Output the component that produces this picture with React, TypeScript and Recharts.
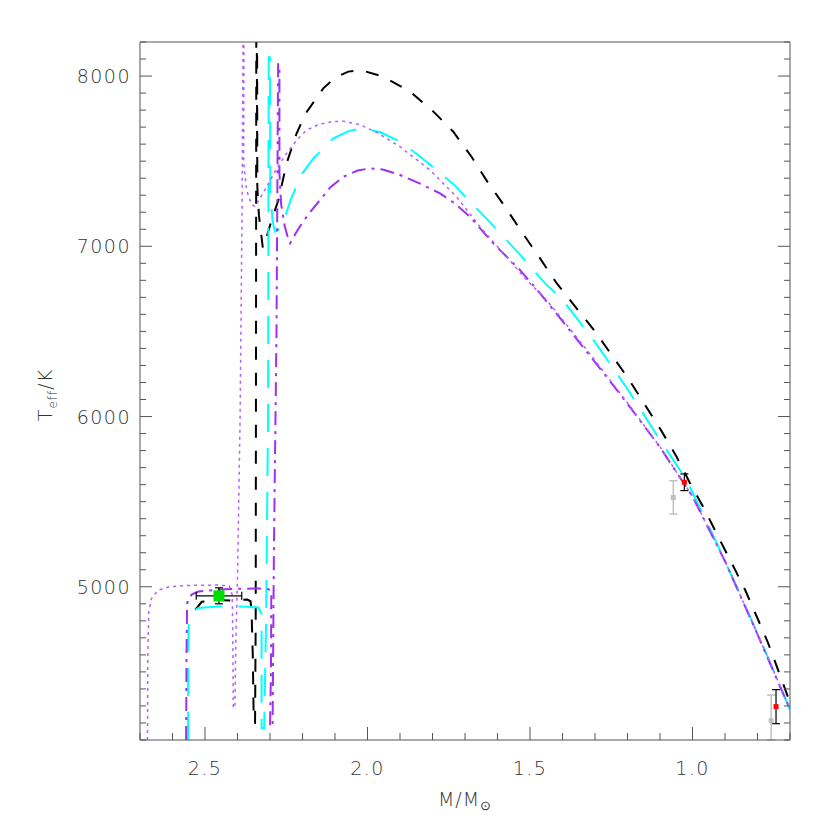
import { ComposedChart, Line, Scatter, XAxis, YAxis, ErrorBar } from 'recharts';

// tracks: [mass, Teff] in drawing order
const BLACK_TRACK = [
  [2.53, 4865], [2.51, 4912], [2.47, 4922], [2.42, 4920], [2.37, 4925], [2.36, 4915], [2.357, 4870],
  [2.353, 4600], [2.35, 4200], [2.346, 4200], [2.344, 4800], [2.343, 6500], [2.342, 8600], [2.34, 8600],
  [2.339, 7400], [2.341, 8400], [2.339, 7350], [2.334, 7180], [2.322, 6990], [2.308, 7070], [2.295, 7154],
  [2.274, 7272], [2.249, 7487], [2.218, 7664], [2.19, 7781], [2.136, 7928], [2.1, 7990], [2.059, 8026],
  [2.02, 8035], [1.951, 7996], [1.869, 7908], [1.797, 7791], [1.736, 7673], [1.68, 7526], [1.628, 7370],
  [1.577, 7233], [1.526, 7086], [1.469, 6929], [1.418, 6783], [1.3, 6500], [1.2, 6230], [1.1, 5930],
  [1.049, 5764], [1.008, 5610], [0.962, 5451], [0.921, 5294], [0.879, 5138], [0.838, 4981], [0.802, 4824],
  [0.767, 4668], [0.731, 4482], [0.7, 4320],
];

const CYAN_TRACK = [
  [2.552, 4100], [2.552, 4600], [2.55, 4790], [2.545, 4830], [2.535, 4858], [2.52, 4876], [2.46, 4884],
  [2.4, 4884], [2.372, 4882], [2.335, 4878], [2.326, 4840], [2.326, 4170], [2.318, 4170], [2.312, 4800],
  [2.306, 6000], [2.304, 8110], [2.3, 8110], [2.299, 7300], [2.292, 7150], [2.285, 7086], [2.275, 7095],
  [2.264, 7115], [2.235, 7280], [2.2, 7430], [2.166, 7517], [2.105, 7634], [2.06, 7675], [2.018, 7693],
  [1.96, 7670], [1.91, 7624], [1.85, 7545], [1.787, 7448], [1.73, 7355], [1.68, 7253], [1.63, 7155],
  [1.582, 7057], [1.53, 6950], [1.49, 6861], [1.45, 6775], [1.403, 6694], [1.3, 6437], [1.2, 6162],
  [1.1, 5862], [1.018, 5627], [0.925, 5255], [0.864, 5000], [0.782, 4648], [0.7, 4276],
];

const PURPLE_TRACK = [
  [2.558, 4100], [2.557, 4600], [2.555, 4900], [2.55, 4935], [2.54, 4955], [2.52, 4972], [2.44, 4986],
  [2.35, 4990], [2.31, 4990], [2.296, 4975], [2.297, 4500], [2.3, 4180], [2.292, 4180], [2.288, 5200],
  [2.28, 6500], [2.275, 8070], [2.271, 8070], [2.271, 7430], [2.266, 7250], [2.255, 7120], [2.245, 7050],
  [2.238, 7018], [2.22, 7080], [2.2, 7140], [2.177, 7200], [2.146, 7272], [2.115, 7345], [2.074, 7409],
  [2.03, 7445], [1.992, 7458], [1.95, 7450], [1.9, 7419], [1.84, 7370], [1.777, 7311], [1.73, 7250],
  [1.685, 7174], [1.613, 7017], [1.531, 6861], [1.469, 6724], [1.4, 6560], [1.3, 6320], [1.2, 6075],
  [1.1, 5820], [1.0, 5530], [0.9, 5150], [0.8, 4720], [0.7, 4280],
];

const DOTTED_TRACK = [
  [2.677, 4100], [2.676, 4600], [2.673, 4850], [2.665, 4930], [2.645, 4980], [2.61, 5000], [2.55, 5008],
  [2.46, 5010], [2.425, 5005], [2.416, 4950], [2.414, 4600], [2.413, 4290], [2.408, 4290], [2.405, 4700],
  [2.4, 5050], [2.392, 6000], [2.386, 7200], [2.382, 8500], [2.38, 8500], [2.381, 7490], [2.372, 7330],
  [2.358, 7250], [2.346, 7233], [2.33, 7285], [2.31, 7350], [2.28, 7455], [2.249, 7546], [2.215, 7630],
  [2.187, 7683], [2.15, 7715], [2.11, 7732], [2.074, 7735], [2.02, 7712], [1.967, 7664], [1.9, 7585],
  [1.808, 7448], [1.726, 7291], [1.654, 7115], [1.582, 6959], [1.51, 6802], [1.449, 6684], [1.4, 6570],
  [1.3, 6330], [1.2, 6080], [1.1, 5822], [1.0, 5532], [0.9, 5152], [0.8, 4722], [0.7, 4282],
];

// observed stars
const GREEN_STAR = [{ m: 2.457, T: 4947, em: 0.07, eT: 47 }];
const RED_STARS = [
  { m: 1.025, T: 5614, eT: 49 },
  { m: 0.743, T: 4296, eT: 100 },
];
const GREY_STARS = [
  { m: 1.059, T: 5525, eT: 98 },
  { m: 0.758, T: 4213, eT: [113, 151] },
];

const X_TICKS = [0.7, 0.8, 0.9, 1.0, 1.1, 1.2, 1.3, 1.4, 1.5, 1.6, 1.7, 1.8, 1.9, 2.0, 2.1, 2.2, 2.3, 2.4, 2.5, 2.6, 2.7];
const Y_TICKS = [
  4100, 4200, 4300, 4400, 4500, 4600, 4700, 4800, 4900, 5000, 5100, 5200, 5300, 5400, 5500, 5600, 5700,
  5800, 5900, 6000, 6100, 6200, 6300, 6400, 6500, 6600, 6700, 6800, 6900, 7000, 7100, 7200, 7300, 7400,
  7500, 7600, 7700, 7800, 7900, 8000, 8100, 8200,
];

const toPts = (track: number[][]) => track.map(([m, T]) => ({ m, T }));

const AXIS = '#555';
const TEXT = '#333';
const FONT = '"DejaVu Sans", sans-serif';

const majorX = (v: number) => Math.abs(v * 2 - Math.round(v * 2)) < 1e-6;
const majorY = (v: number) => v % 1000 === 0;

const labelStyle = { fontFamily: FONT, fontSize: 19, fontWeight: 200, fill: TEXT, letterSpacing: 1.5 };

function BottomTick({ x, y, payload }: any) {
  const big = majorX(payload.value);
  return (
    <g>
      <line x1={x} y1={y} x2={x} y2={y - (big ? 13 : 7)} stroke={AXIS} />
      {big && (
        <text x={x} y={y + 35} textAnchor="middle" {...labelStyle}>
          {payload.value.toFixed(1)}
        </text>
      )}
    </g>
  );
}

function TopTick({ x, y, payload }: any) {
  const big = majorX(payload.value);
  return <line x1={x} y1={y} x2={x} y2={y + (big ? 13 : 7)} stroke={AXIS} />;
}

function LeftTick({ x, y, payload }: any) {
  const big = majorY(payload.value);
  return (
    <g>
      <line x1={x} y1={y} x2={x + (big ? 12 : 6)} y2={y} stroke={AXIS} />
      {big && (
        <text x={x - 9} y={y + 7} textAnchor="end" {...labelStyle}>
          {payload.value}
        </text>
      )}
    </g>
  );
}

function RightTick({ x, y, payload }: any) {
  const big = majorY(payload.value);
  return <line x1={x} y1={y} x2={x - (big ? 12 : 6)} y2={y} stroke={AXIS} />;
}

const square = (size: number, fill: string) => (props: any) => (
  <rect x={props.cx - size / 2} y={props.cy - size / 2} width={size} height={size} fill={fill} />
);

export default function App() {
  return (
    <div style={{ position: 'absolute', left: 0, top: 0, background: '#fff' }}>
      <ComposedChart width={830} height={830} margin={{ top: 0, right: 0, bottom: 0, left: 0 }}>
        <XAxis
          xAxisId="b"
          type="number"
          dataKey="m"
          domain={[0.7, 2.7]}
          reversed
          allowDataOverflow
          ticks={X_TICKS}
          interval={0}
          height={90}
          tickSize={0}
          tickMargin={0}
          tickLine={false}
          axisLine={{ stroke: AXIS }}
          tick={<BottomTick />}
          label={{
            content: () => (
              <text x={465} y={806} textAnchor="middle" {...labelStyle} letterSpacing={1}>
                M/M
                <tspan fontSize={13} dy={4}>⊙</tspan>
              </text>
            ),
          }}
        />
        <XAxis
          xAxisId="t"
          orientation="top"
          type="number"
          domain={[0.7, 2.7]}
          reversed
          allowDataOverflow
          ticks={X_TICKS}
          interval={0}
          height={42}
          tickSize={0}
          tickMargin={0}
          tickLine={false}
          axisLine={{ stroke: AXIS }}
          tick={<TopTick />}
        />
        <YAxis
          yAxisId="l"
          type="number"
          dataKey="T"
          domain={[4100, 8200]}
          allowDataOverflow
          ticks={Y_TICKS}
          interval={0}
          width={140}
          tickSize={0}
          tickMargin={0}
          tickLine={false}
          axisLine={{ stroke: AXIS }}
          tick={<LeftTick />}
          label={{
            content: () => (
              <text x={52} y={395} transform="rotate(-90 52 395)" textAnchor="middle" {...labelStyle} letterSpacing={1}>
                T
                <tspan fontSize={12} dy={5}>eff</tspan>
                <tspan dy={-5}>/K</tspan>
              </text>
            ),
          }}
        />
        <YAxis
          yAxisId="r"
          orientation="right"
          type="number"
          domain={[4100, 8200]}
          allowDataOverflow
          ticks={Y_TICKS}
          interval={0}
          width={40}
          tickSize={0}
          tickMargin={0}
          tickLine={false}
          axisLine={{ stroke: AXIS }}
          tick={<RightTick />}
        />

        <Line
          xAxisId="b" yAxisId="l" data={toPts(BLACK_TRACK)} dataKey="T" type="linear"
          stroke="#000" strokeWidth={2} strokeDasharray="13 13" dot={false} isAnimationActive={false}
        />
        <Line
          xAxisId="b" yAxisId="l" data={toPts(CYAN_TRACK)} dataKey="T" type="linear"
          stroke="#00ffff" strokeWidth={2} strokeDasharray="28 16" dot={false} isAnimationActive={false}
        />
        <Line
          xAxisId="b" yAxisId="l" data={toPts(PURPLE_TRACK)} dataKey="T" type="linear"
          stroke="#a030f0" strokeWidth={2} strokeDasharray="14 6 3 6" dot={false} isAnimationActive={false}
        />
        <Line
          xAxisId="b" yAxisId="l" data={toPts(DOTTED_TRACK)} dataKey="T" type="linear"
          stroke="#b060ff" strokeWidth={1.5} strokeDasharray="3 4" dot={false} isAnimationActive={false}
        />

        <Scatter xAxisId="b" yAxisId="l" data={GREY_STARS} dataKey="T" shape={square(5, '#c0c0c0')} isAnimationActive={false}>
          <ErrorBar dataKey="eT" direction="y" width={4} stroke="#c0c0c0" strokeWidth={1.5} />
        </Scatter>
        <Scatter xAxisId="b" yAxisId="l" data={RED_STARS} dataKey="T" shape={square(5, '#ff0000')} isAnimationActive={false}>
          <ErrorBar dataKey="eT" direction="y" width={4} stroke="#000" strokeWidth={1.2} />
        </Scatter>
        <Scatter xAxisId="b" yAxisId="l" data={GREEN_STAR} dataKey="T" shape={square(11, '#00dd00')} isAnimationActive={false}>
          <ErrorBar dataKey="eT" direction="y" width={4} stroke="#000" strokeWidth={1.2} />
          <ErrorBar dataKey="em" direction="x" width={4} stroke="#000" strokeWidth={1.2} />
        </Scatter>
      </ComposedChart>
    </div>
  );
}
